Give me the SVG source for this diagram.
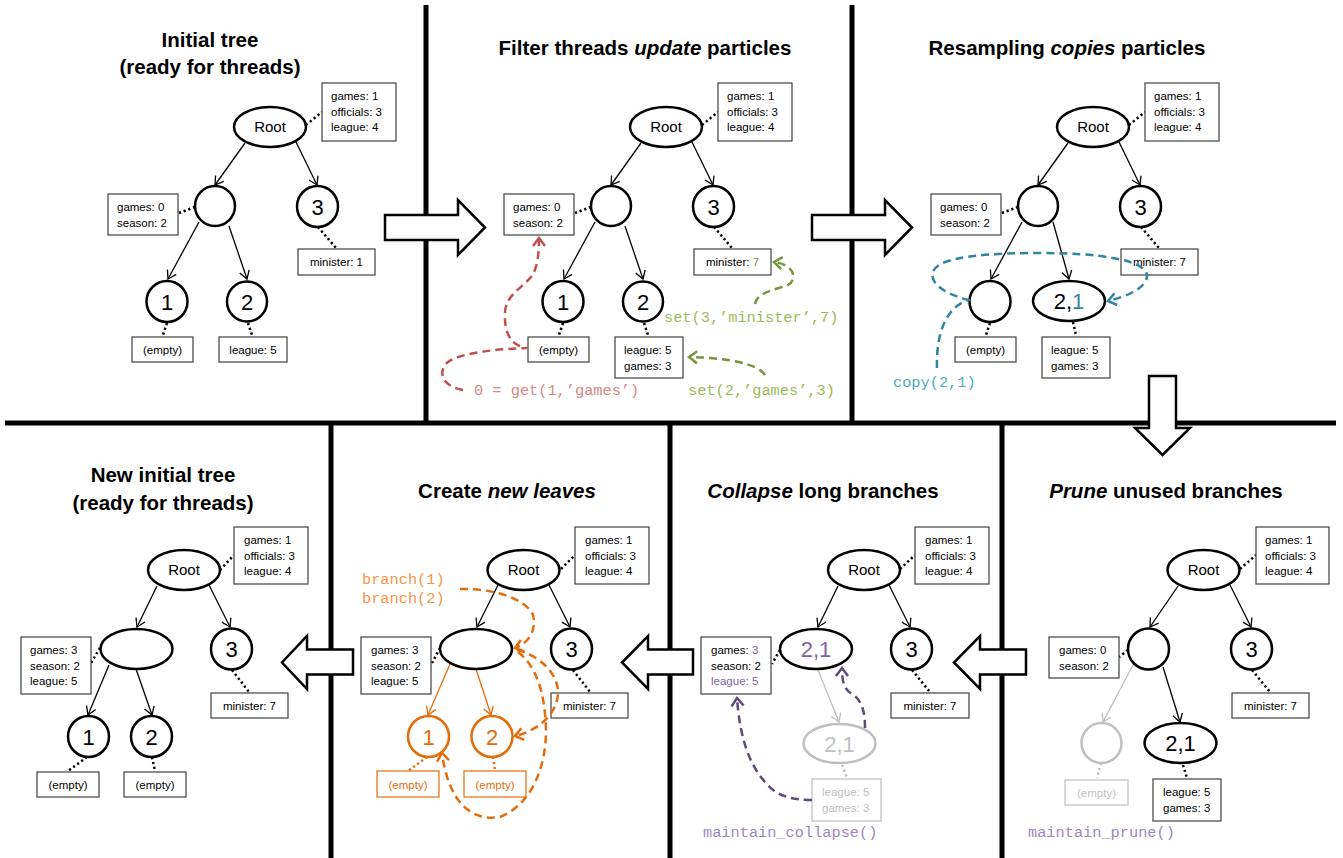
<svg xmlns="http://www.w3.org/2000/svg" width="1343" height="858" viewBox="0 0 1343 858">
<defs>
<style>
.div{stroke:#000;stroke-width:5;fill:none}
.blk{fill:#fff;stroke:#000;stroke-width:2.5;stroke-linejoin:miter}
.node{fill:#fff;stroke:#000;stroke-width:2.5}
.gnode{fill:#fff;stroke:#bfbfbf;stroke-width:2.5}
.onode{fill:#fff;stroke:#E46C0A;stroke-width:2.5}
.box{fill:#fff;stroke:#404040;stroke-width:1.2}
.gbox{fill:#fff;stroke:#bfbfbf;stroke-width:1.2}
.obox{fill:#fff;stroke:#E46C0A;stroke-width:1.2}
.edge{stroke:#000;stroke-width:1.3;fill:none}
.gedge{stroke:#bfbfbf;stroke-width:1.3;fill:none}
.oedge{stroke:#E46C0A;stroke-width:1.3;fill:none}
.dot{stroke:#000;stroke-width:2.5;stroke-dasharray:2.2 2.8;fill:none}
.gdot{stroke:#bfbfbf;stroke-width:2.5;stroke-dasharray:2.2 2.8;fill:none}
.odot{stroke:#E46C0A;stroke-width:2.5;stroke-dasharray:2.2 2.8;fill:none}
.dash{fill:none;stroke-width:2.5;stroke-dasharray:8 5}
.t{font-family:"Liberation Sans",Arial,sans-serif;font-size:11.5px;fill:#000}
.c{text-anchor:middle}
.title{font-family:"Liberation Sans",Arial,sans-serif;font-size:20.5px;font-weight:bold;text-anchor:middle;fill:#000}
.lbl{font-family:"Liberation Sans",Arial,sans-serif;font-size:22px;text-anchor:middle;fill:#000}
.rt{font-family:"Liberation Sans",Arial,sans-serif;font-size:15px;text-anchor:middle;fill:#000}
.code{font-family:"Liberation Mono","Courier New",monospace;font-size:15.3px}
</style>
<marker id="ab" viewBox="-10 -6 12 12" refX="0" refY="0" markerWidth="12" markerHeight="12" orient="auto" markerUnits="userSpaceOnUse"><path d="M-8,-5 L0,0 L-8,5" fill="none" stroke="#000" stroke-width="1.3"/></marker>
<marker id="ag" viewBox="-10 -6 12 12" refX="0" refY="0" markerWidth="12" markerHeight="12" orient="auto" markerUnits="userSpaceOnUse"><path d="M-8,-5 L0,0 L-8,5" fill="none" stroke="#bfbfbf" stroke-width="1.3"/></marker>
<marker id="ao" viewBox="-10 -6 12 12" refX="0" refY="0" markerWidth="12" markerHeight="12" orient="auto" markerUnits="userSpaceOnUse"><path d="M-8,-5 L0,0 L-8,5" fill="none" stroke="#E46C0A" stroke-width="1.3"/></marker>
<marker id="dRed" viewBox="-12 -8 14 16" refX="0" refY="0" markerWidth="14" markerHeight="16" orient="auto" markerUnits="userSpaceOnUse"><path d="M-8,-6 L0,0 L-8,6" fill="none" stroke="#C0504D" stroke-width="2.5"/></marker>
<marker id="dGreen" viewBox="-12 -8 14 16" refX="0" refY="0" markerWidth="14" markerHeight="16" orient="auto" markerUnits="userSpaceOnUse"><path d="M-8,-6 L0,0 L-8,6" fill="none" stroke="#77933C" stroke-width="2.5"/></marker>
<marker id="dTeal" viewBox="-12 -8 14 16" refX="0" refY="0" markerWidth="14" markerHeight="16" orient="auto" markerUnits="userSpaceOnUse"><path d="M-8,-6 L0,0 L-8,6" fill="none" stroke="#31859C" stroke-width="2.5"/></marker>
<marker id="dOrange" viewBox="-12 -8 14 16" refX="0" refY="0" markerWidth="14" markerHeight="16" orient="auto" markerUnits="userSpaceOnUse"><path d="M-8,-6 L0,0 L-8,6" fill="none" stroke="#E46C0A" stroke-width="2.5"/></marker>
<marker id="dPurple" viewBox="-12 -8 14 16" refX="0" refY="0" markerWidth="14" markerHeight="16" orient="auto" markerUnits="userSpaceOnUse"><path d="M-8,-6 L0,0 L-8,6" fill="none" stroke="#5F497A" stroke-width="2.5"/></marker>
</defs>
<rect width="1343" height="858" fill="#fff"/>

<!-- panel dividers -->
<g id="dividers">
<path class="div" d="M426 5 V423 M852 5 V423 M5 423 H1336 M331 423 V858 M670 423 V858 M1002 423 V858"/>
</g>

<!-- titles -->
<g id="titles">
<text class="title" x="210" y="47">Initial tree</text>
<text class="title" x="210" y="74">(ready for threads)</text>
<text class="title" x="645" y="55">Filter threads <tspan font-style="italic">update</tspan> particles</text>
<text class="title" x="1067" y="55">Resampling <tspan font-style="italic">copies</tspan> particles</text>
<text class="title" x="163" y="482">New initial tree</text>
<text class="title" x="163" y="510">(ready for threads)</text>
<text class="title" x="507" y="498">Create <tspan font-style="italic">new leaves</tspan></text>
<text class="title" x="823" y="498"><tspan font-style="italic">Collapse</tspan> long branches</text>
<text class="title" x="1166" y="498"><tspan font-style="italic">Prune</tspan> unused branches</text>
</g>

<!-- ================= Panel 1 ================= -->
<g id="p1">
<g id="p1-connectors">
<path class="edge" marker-end="url(#ab)" d="M245 143 L215 185"/>
<path class="edge" marker-end="url(#ab)" d="M296 142 L317 185"/>
<path class="edge" marker-end="url(#ab)" d="M199 222 L168 279"/>
<path class="edge" marker-end="url(#ab)" d="M229 226 L247 279"/>
<path class="dot" d="M306 125 L322 112"/>
<path class="dot" d="M195 207 L179 213"/>
<path class="dot" d="M318 227 L336 248"/>
<path class="dot" d="M167 323 L163 335"/>
<path class="dot" d="M248 323 L252 335"/>
</g>
<g id="p1-root"><ellipse class="node" cx="270" cy="127" rx="36" ry="20"/><text class="rt" x="270" y="132">Root</text></g>
<g id="p1-root-data"><rect class="box" x="322" y="83" width="74" height="58"/><text class="t" x="331" y="100">games: 1</text><text class="t" x="331" y="115.5">officials: 3</text><text class="t" x="331" y="131">league: 4</text></g>
<g id="p1-mid"><circle class="node" cx="215" cy="206" r="20"/></g>
<g id="p1-mid-data"><rect class="box" x="108" y="194" width="70" height="41"/><text class="t" x="117" y="211">games: 0</text><text class="t" x="117" y="226.5">season: 2</text></g>
<g id="p1-n3"><circle class="node" cx="317.5" cy="206.5" r="20.5"/><text class="lbl" x="317.5" y="214.5">3</text></g>
<g id="p1-n3-data"><rect class="box" x="298" y="249" width="77" height="26"/><text class="t c" x="336.5" y="266">minister: 1</text></g>
<g id="p1-n1"><circle class="node" cx="167" cy="301.5" r="20.5"/><text class="lbl" x="167" y="309.5">1</text></g>
<g id="p1-n1-data"><rect class="box" x="132" y="337" width="61" height="25"/><text class="t c" x="162.5" y="354">(empty)</text></g>
<g id="p1-n2"><circle class="node" cx="247" cy="301.5" r="20"/><text class="lbl" x="247" y="309.5">2</text></g>
<g id="p1-n2-data"><rect class="box" x="219" y="337" width="68" height="25"/><text class="t c" x="253" y="354">league: 5</text></g>
</g>

<!-- ================= Panel 2 ================= -->
<g id="p2" transform="translate(396,0)">
<g id="p2-connectors">
<path class="edge" marker-end="url(#ab)" d="M245 143 L215 185"/>
<path class="edge" marker-end="url(#ab)" d="M296 142 L317 185"/>
<path class="edge" marker-end="url(#ab)" d="M199 222 L168 279"/>
<path class="edge" marker-end="url(#ab)" d="M229 226 L247 279"/>
<path class="dot" d="M306 125 L322 112"/>
<path class="dot" d="M195 207 L179 213"/>
<path class="dot" d="M318 227 L336 248"/>
<path class="dot" d="M167 323 L163 335"/>
<path class="dot" d="M248 323 L252 335"/>
</g>
<g id="p2-root"><ellipse class="node" cx="270" cy="127" rx="36" ry="20"/><text class="rt" x="270" y="132">Root</text></g>
<g id="p2-root-data"><rect class="box" x="322" y="83" width="74" height="58"/><text class="t" x="331" y="100">games: 1</text><text class="t" x="331" y="115.5">officials: 3</text><text class="t" x="331" y="131">league: 4</text></g>
<g id="p2-mid"><circle class="node" cx="215" cy="206" r="20"/></g>
<g id="p2-mid-data"><rect class="box" x="108" y="194" width="70" height="41"/><text class="t" x="117" y="211">games: 0</text><text class="t" x="117" y="226.5">season: 2</text></g>
<g id="p2-n3"><circle class="node" cx="317.5" cy="206.5" r="20.5"/><text class="lbl" x="317.5" y="214.5">3</text></g>
<g id="p2-n3-data"><rect class="box" x="298" y="249" width="77" height="26"/><text class="t c" x="336.5" y="266">minister: <tspan fill="#77933C">7</tspan></text></g>
<g id="p2-n1"><circle class="node" cx="167" cy="301.5" r="20.5"/><text class="lbl" x="167" y="309.5">1</text></g>
<g id="p2-n1-data"><rect class="box" x="132" y="337" width="61" height="25"/><text class="t c" x="162.5" y="354">(empty)</text></g>
<g id="p2-n2"><circle class="node" cx="247" cy="301.5" r="20"/><text class="lbl" x="247" y="309.5">2</text></g>
<g id="p2-n2-data"><rect class="box" x="219" y="337" width="68" height="41"/><text class="t" x="228" y="354">league: 5</text><text class="t" x="228" y="369.5" fill="#77933C">games: 3</text></g>
</g>
<g id="p2-annotations">
<path class="dash" stroke="#C0504D" marker-end="url(#dRed)" d="M463 390 C440 386 438 370 448 362 C462 352 500 349 527 348 C510 346 504 332 505 312 C506 295 522 288 531 277 C538 268 539 252 539 238"/>
<path class="dash" stroke="#77933C" marker-end="url(#dGreen)" d="M755 304 C757 292 775 290 788 285 C797 280 796 265 774 262"/>
<path class="dash" stroke="#77933C" marker-end="url(#dGreen)" d="M765 375 C758 364 730 358 689 357"/>
<text class="code" x="474" y="395" fill="#D98683">0 = get(1,’games’)</text>
<text class="code" x="664" y="322" fill="#9BBB59">set(3,’minister’,7)</text>
<text class="code" x="688" y="395" fill="#9BBB59">set(2,’games’,3)</text>
</g>

<!-- ================= Panel 3 ================= -->
<g id="p3" transform="translate(823,0)">
<g id="p3-connectors">
<path class="edge" marker-end="url(#ab)" d="M245 143 L215 185"/>
<path class="edge" marker-end="url(#ab)" d="M296 142 L317 185"/>
<path class="edge" marker-end="url(#ab)" d="M199 222 L168 279"/>
<path class="edge" marker-end="url(#ab)" d="M230 222 L246 279"/>
<path class="dot" d="M306 125 L322 112"/>
<path class="dot" d="M195 207 L179 213"/>
<path class="dot" d="M318 227 L336 248"/>
<path class="dot" d="M167 323 L163 335"/>
<path class="dot" d="M250 322 L253 335"/>
</g>
<g id="p3-root"><ellipse class="node" cx="270" cy="127" rx="36" ry="20"/><text class="rt" x="270" y="132">Root</text></g>
<g id="p3-root-data"><rect class="box" x="322" y="83" width="74" height="58"/><text class="t" x="331" y="100">games: 1</text><text class="t" x="331" y="115.5">officials: 3</text><text class="t" x="331" y="131">league: 4</text></g>
<g id="p3-mid"><circle class="node" cx="215" cy="206" r="20"/></g>
<g id="p3-mid-data"><rect class="box" x="108" y="194" width="70" height="41"/><text class="t" x="117" y="211">games: 0</text><text class="t" x="117" y="226.5">season: 2</text></g>
<g id="p3-n3"><circle class="node" cx="317.5" cy="206.5" r="20.5"/><text class="lbl" x="317.5" y="214.5">3</text></g>
<g id="p3-n3-data"><rect class="box" x="298" y="249" width="77" height="26"/><text class="t c" x="336.5" y="266">minister: 7</text></g>
<g id="p3-n1"><circle class="node" cx="167" cy="301.5" r="20.5"/></g>
<g id="p3-n1-data"><rect class="box" x="132" y="337" width="61" height="25"/><text class="t c" x="162.5" y="354">(empty)</text></g>
<g id="p3-n21"><ellipse class="node" cx="246" cy="301" rx="36" ry="20"/><text class="lbl" x="246" y="309">2,<tspan fill="#31859C">1</tspan></text></g>
<g id="p3-n21-data"><rect class="box" x="219" y="337" width="68" height="41"/><text class="t" x="228" y="354">league: 5</text><text class="t" x="228" y="369.5">games: 3</text></g>
</g>
<g id="p3-annotations">
<path class="dash" stroke="#31859C" marker-end="url(#dTeal)" d="M937 368 C936 335 945 308 968 300 C940 292 930 282 933 272 C938 256 990 253 1040 253 C1100 253 1145 260 1147 275 C1148 288 1125 297 1108 301"/>
<text class="code" x="893" y="387" fill="#4BACC6">copy(2,1)</text>
</g>

<!-- ================= Panel 4 (New initial tree) ================= -->
<g id="p4">
<g id="p4-connectors">
<path class="edge" marker-end="url(#ab)" d="M157 586 L137 627"/>
<path class="edge" marker-end="url(#ab)" d="M209 585 L230 627"/>
<path class="edge" marker-end="url(#ab)" d="M109 665 L88 715"/>
<path class="edge" marker-end="url(#ab)" d="M136 669 L152 715"/>
<path class="dot" d="M220 570 L234 555"/>
<path class="dot" d="M100 648 L91 663"/>
<path class="dot" d="M232 670 L249 692"/>
<path class="dot" d="M87 757 L68 771"/>
<path class="dot" d="M152 757 L155 771"/>
</g>
<g id="p4-root"><ellipse class="node" cx="184" cy="570" rx="36" ry="20"/><text class="rt" x="184" y="575">Root</text></g>
<g id="p4-root-data"><rect class="box" x="234" y="527" width="74" height="57"/><text class="t" x="244" y="544">games: 1</text><text class="t" x="244" y="559.5">officials: 3</text><text class="t" x="244" y="575">league: 4</text></g>
<g id="p4-mid"><ellipse class="node" cx="136.5" cy="649" rx="36" ry="20"/></g>
<g id="p4-mid-data"><rect class="box" x="21" y="637" width="70" height="57"/><text class="t" x="30" y="654">games: 3</text><text class="t" x="30" y="669.5">season: 2</text><text class="t" x="30" y="685">league: 5</text></g>
<g id="p4-n3"><circle class="node" cx="231.5" cy="649" r="20.5"/><text class="lbl" x="231.5" y="657">3</text></g>
<g id="p4-n3-data"><rect class="box" x="211" y="693" width="77" height="25"/><text class="t c" x="249.5" y="710">minister: 7</text></g>
<g id="p4-n1"><circle class="node" cx="88.5" cy="736.5" r="20.5"/><text class="lbl" x="88.5" y="744.5">1</text></g>
<g id="p4-n1-data"><rect class="box" x="37" y="772" width="62" height="25"/><text class="t c" x="68" y="789">(empty)</text></g>
<g id="p4-n2"><circle class="node" cx="151.5" cy="736.5" r="20.5"/><text class="lbl" x="151.5" y="744.5">2</text></g>
<g id="p4-n2-data"><rect class="box" x="124" y="772" width="62" height="25"/><text class="t c" x="155" y="789">(empty)</text></g>
</g>

<!-- ================= Panel 5 (Create new leaves) ================= -->
<g id="p5">
<g id="p5-connectors">
<path class="edge" marker-end="url(#ab)" d="M498 585 L477 627"/>
<path class="edge" marker-end="url(#ab)" d="M549 585 L570 627"/>
<path class="oedge" marker-end="url(#ao)" d="M450 664 L428 715"/>
<path class="oedge" marker-end="url(#ao)" d="M476 669 L491 715"/>
<path class="dot" d="M561 569 L575 555"/>
<path class="dot" d="M440 648 L432 663"/>
<path class="dot" d="M573 670 L590 692"/>
<path class="odot" d="M427 757 L408 771"/>
<path class="odot" d="M493 757 L495 771"/>
</g>
<g id="p5-root"><ellipse class="node" cx="523.5" cy="570" rx="36" ry="20"/><text class="rt" x="523.5" y="575">Root</text></g>
<g id="p5-root-data"><rect class="box" x="575" y="527" width="74" height="57"/><text class="t" x="585" y="544">games: 1</text><text class="t" x="585" y="559.5">officials: 3</text><text class="t" x="585" y="575">league: 4</text></g>
<g id="p5-mid"><ellipse class="node" cx="476" cy="649" rx="36" ry="20"/></g>
<g id="p5-mid-data"><rect class="box" x="361" y="637" width="70" height="57"/><text class="t" x="371" y="654">games: 3</text><text class="t" x="371" y="669.5">season: 2</text><text class="t" x="371" y="685">league: 5</text></g>
<g id="p5-n3"><circle class="node" cx="571.5" cy="649" r="20.5"/><text class="lbl" x="571.5" y="657">3</text></g>
<g id="p5-n3-data"><rect class="box" x="551" y="693" width="77" height="25"/><text class="t c" x="589.5" y="710">minister: 7</text></g>
<g id="p5-n1"><circle class="onode" cx="428.5" cy="736.5" r="20.5"/><text class="lbl" x="428.5" y="744.5" fill="#E46C0A" style="fill:#E46C0A">1</text></g>
<g id="p5-n1-data"><rect class="obox" x="377" y="771" width="62" height="26"/><text class="t c" x="408" y="788.5" style="fill:#E46C0A">(empty)</text></g>
<g id="p5-n2"><circle class="onode" cx="492" cy="736.5" r="20.5"/><text class="lbl" x="492" y="744.5" style="fill:#E46C0A">2</text></g>
<g id="p5-n2-data"><rect class="obox" x="464" y="771" width="62" height="26"/><text class="t c" x="495" y="788.5" style="fill:#E46C0A">(empty)</text></g>
</g>
<g id="p5-annotations">
<path class="dash" stroke="#E46C0A" marker-end="url(#dOrange)" d="M460 589 C495 588 527 600 533 615 C537 630 528 644 515 648"/>
<path class="dash" stroke="#E46C0A" marker-end="url(#dOrange)" d="M517 650 C540 656 556 672 558 690 C559 712 540 730 515 736"/>
<path class="dash" stroke="#E46C0A" marker-end="url(#dOrange)" d="M518 652 C535 665 545 690 546 730 C546 770 530 805 500 817 C470 822 448 800 442 753"/>
<text class="code" x="362" y="584" fill="#F79646">branch(1)</text>
<text class="code" x="362" y="603" fill="#F79646">branch(2)</text>
</g>

<!-- ================= Panel 6 (Collapse) ================= -->
<g id="p6">
<g id="p6-connectors">
<path class="edge" marker-end="url(#ab)" d="M838 586 L818 627"/>
<path class="edge" marker-end="url(#ab)" d="M889 585 L910 627"/>
<path class="gedge" marker-end="url(#ag)" d="M818 670 L839 722"/>
<path class="dot" d="M900 569 L915 555"/>
<path class="dot" d="M780 650 L772 664"/>
<path class="dot" d="M912 670 L930 692"/>
<path class="gdot" d="M842 765 L847 778"/>
</g>
<g id="p6-root"><ellipse class="node" cx="864" cy="570" rx="36" ry="20"/><text class="rt" x="864" y="575">Root</text></g>
<g id="p6-root-data"><rect class="box" x="915" y="527" width="74" height="57"/><text class="t" x="925" y="544">games: 1</text><text class="t" x="925" y="559.5">officials: 3</text><text class="t" x="925" y="575">league: 4</text></g>
<g id="p6-mid"><ellipse class="node" cx="816" cy="649" rx="36" ry="20"/><text class="lbl" x="816" y="657" style="fill:#8064A2">2,1</text></g>
<g id="p6-mid-data"><rect class="box" x="701" y="637" width="70" height="57"/><text class="t" x="711" y="654">games: <tspan style="fill:#8064A2">3</tspan></text><text class="t" x="711" y="669.5">season: 2</text><text class="t" x="711" y="685" style="fill:#8064A2">league: 5</text></g>
<g id="p6-n3"><circle class="node" cx="911.5" cy="649" r="20.5"/><text class="lbl" x="911.5" y="657">3</text></g>
<g id="p6-n3-data"><rect class="box" x="891" y="693" width="78" height="25"/><text class="t c" x="930" y="710">minister: 7</text></g>
<g id="p6-old"><ellipse class="gnode" cx="839.5" cy="743.5" rx="36" ry="19.5"/><text class="lbl" x="839.5" y="751.5" style="fill:#bfbfbf">2,1</text></g>
<g id="p6-old-data"><rect class="gbox" x="812" y="779" width="69" height="42"/><text class="t" x="822" y="796" style="fill:#bfbfbf">league: 5</text><text class="t" x="822" y="811.5" style="fill:#bfbfbf">games: 3</text></g>
</g>
<g id="p6-annotations">
<path class="dash" stroke="#5F497A" marker-end="url(#dPurple)" d="M865 728 C865 712 862 700 852 694 C845 690 842 684 842 668"/>
<path class="dash" stroke="#5F497A" marker-end="url(#dPurple)" d="M812 800 C790 800 775 795 765 782 C750 765 740 740 737 698"/>
<text class="code" x="703" y="837" fill="#9E86C2">maintain_collapse()</text>
</g>

<!-- ================= Panel 7 (Prune) ================= -->
<g id="p7">
<g id="p7-connectors">
<path class="edge" marker-end="url(#ab)" d="M1178 586 L1150 627"/>
<path class="edge" marker-end="url(#ab)" d="M1230 585 L1251 627"/>
<path class="gedge" marker-end="url(#ag)" d="M1134 663 L1103 722"/>
<path class="edge" marker-end="url(#ab)" d="M1163 667 L1180 722"/>
<path class="dot" d="M1240 569 L1256 555"/>
<path class="dot" d="M1128 650 L1119 657"/>
<path class="dot" d="M1252 670 L1270 692"/>
<path class="gdot" d="M1101 763 L1097 778"/>
<path class="dot" d="M1183 765 L1187 778"/>
</g>
<g id="p7-root"><ellipse class="node" cx="1203.5" cy="570" rx="36" ry="20"/><text class="rt" x="1203.5" y="575">Root</text></g>
<g id="p7-root-data"><rect class="box" x="1256" y="527" width="73" height="57"/><text class="t" x="1265" y="544">games: 1</text><text class="t" x="1265" y="559.5">officials: 3</text><text class="t" x="1265" y="575">league: 4</text></g>
<g id="p7-mid"><circle class="node" cx="1148.5" cy="649" r="20.5"/></g>
<g id="p7-mid-data"><rect class="box" x="1049" y="637" width="70" height="41"/><text class="t" x="1059" y="654">games: 0</text><text class="t" x="1059" y="669.5">season: 2</text></g>
<g id="p7-n3"><circle class="node" cx="1251.5" cy="649" r="20.5"/><text class="lbl" x="1251.5" y="657">3</text></g>
<g id="p7-n3-data"><rect class="box" x="1232" y="693" width="77" height="25"/><text class="t c" x="1270.5" y="710">minister: 7</text></g>
<g id="p7-unused"><circle class="gnode" cx="1101.5" cy="743" r="20"/></g>
<g id="p7-unused-data"><rect class="gbox" x="1065" y="780" width="63" height="25"/><text class="t c" x="1096.5" y="797" style="fill:#bfbfbf">(empty)</text></g>
<g id="p7-n21"><ellipse class="node" cx="1180.5" cy="743" rx="36" ry="20"/><text class="lbl" x="1180.5" y="751">2,1</text></g>
<g id="p7-n21-data"><rect class="box" x="1153" y="779" width="68" height="42"/><text class="t" x="1163" y="796">league: 5</text><text class="t" x="1163" y="811.5">games: 3</text></g>
</g>
<g id="p7-annotations">
<text class="code" x="1028" y="837" fill="#9E86C2">maintain_prune()</text>
</g>

<!-- block arrows between panels -->
<g id="flow-arrows">
<polygon class="blk" points="385,215 458,215 458,200 485,227.5 458,255 458,240 385,240"/>
<polygon class="blk" points="812,215 885,215 885,200 912,227.5 885,255 885,240 812,240"/>
<polygon class="blk" points="1149,376 1176,376 1176,428 1190,428 1162.5,455 1135,428 1149,428"/>
<polygon class="blk" points="1026,649.5 980,649.5 980,636 954,662.5 980,689 980,674.5 1026,674.5"/>
<polygon class="blk" points="693,649.5 648,649.5 648,636 622,662.5 648,689 648,674.5 693,674.5"/>
<polygon class="blk" points="353,649.5 307,649.5 307,636 282,662.5 307,689 307,674.5 353,674.5"/>
</g>
</svg>
